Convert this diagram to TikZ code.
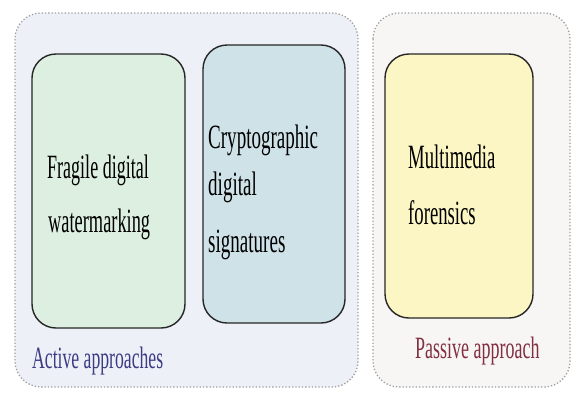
\documentclass[tikz,border=0pt]{standalone}
\usepackage{fontspec}
\setmainfont{Liberation Serif}
\begin{document}
\begin{tikzpicture}[x=1pt,y=-1pt,
  group/.style={draw=gray!75, line width=1.3pt, dotted, rounded corners=26pt},
  method/.style={draw=black!85, line width=1.4pt, rounded corners=24pt},
  txt/.style={font=\fontsize{34}{34}\selectfont, inner sep=0pt, anchor=base west},
  grp/.style={font=\fontsize{31}{31}\selectfont, inner sep=0pt, anchor=base west}
]
\definecolor{activebg}{HTML}{EEF0F8}
\definecolor{passivebg}{HTML}{F8F5F5}
\definecolor{greenbg}{HTML}{DCEFE0}
\definecolor{bluebg}{HTML}{CFE2E8}
\definecolor{yellowbg}{HTML}{FBF6C4}
\definecolor{activetxt}{HTML}{3C3C84}
\definecolor{passivetxt}{HTML}{803040}
\useasboundingbox[fill=white] (0,0) rectangle (573,392);

% group containers
\draw[group, fill=activebg] (15,13) rectangle (358,387);
\draw[group, fill=passivebg] (373,13) rectangle (570,387);

% method boxes
\draw[method, fill=greenbg] (32,54) rectangle (185,328);
\draw[method, fill=bluebg] (203,45) rectangle (345,323);
\draw[method, fill=yellowbg] (385,54) rectangle (533,318);

% box labels
\node[txt] (f1) at (47,178) {\scalebox{0.53}[1]{Fragile digital}};
\node[txt] (f2) at (48,232) {\scalebox{0.54}[1]{watermarking}};
\node[txt] (c1) at (208,148) {\scalebox{0.56}[1]{Cryptographic}};
\node[txt] (c2) at (208,195) {\scalebox{0.56}[1]{digital}};
\node[txt] (c3) at (208,252) {\scalebox{0.56}[1]{signatures}};
\node[txt] (m1) at (408,168) {\scalebox{0.55}[1]{Multimedia}};
\node[txt] (m2) at (408,224) {\scalebox{0.55}[1]{forensics}};

% group labels
\node[grp, text=activetxt] (act) at (32,368) {\scalebox{0.57}[1]{Active approaches}};
\node[grp, text=passivetxt] (pas) at (415,358) {\scalebox{0.58}[1]{Passive approach}};
\end{tikzpicture}
\end{document}
